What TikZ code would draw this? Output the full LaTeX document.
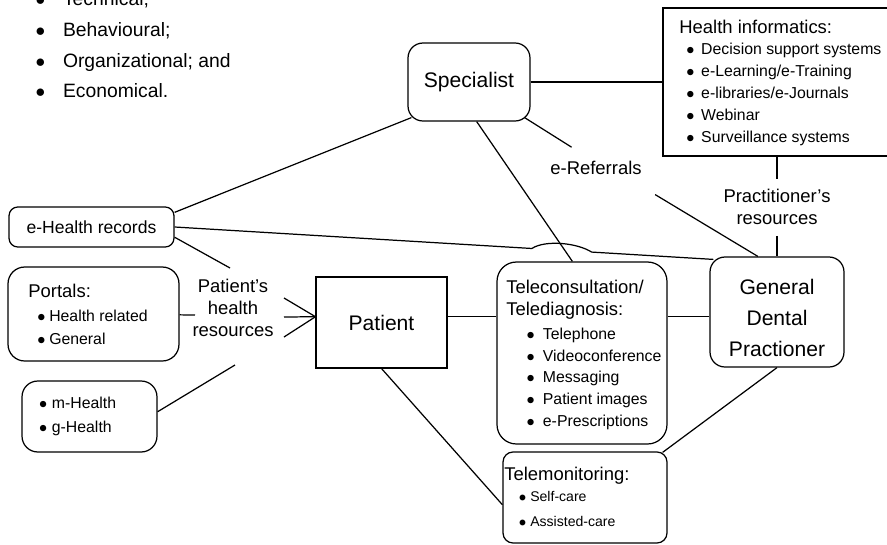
\documentclass[tikz,border=0pt]{standalone}
\usepackage{fontspec}
\setmainfont{Liberation Sans}
\usetikzlibrary{calc,positioning}
\newcommand{\dotitem}[2]{\makebox[0pt]{$\bullet$}\hspace{#1}#2}

\begin{document}
\begin{tikzpicture}[x=0.02cm,y=-0.02cm,
	box/.style={draw,line width=0.7pt,rounded corners=8.5pt,inner sep=0pt},
	link/.style={line width=0.7pt},
	item/.style={anchor=base west,inner sep=0pt},
	lbl/.style={align=center,inner sep=6pt,font=\fontsize{10.5}{12.5}\selectfont}]

	\useasboundingbox (0,0) rectangle (887,545);
	\clip (0,0) rectangle (887,545);

	% Aspetti
	\foreach \t [count=\i from 0] in {Technical;,Behavioural;,Organizational; and,Economical.} {
		\node[item,font=\fontsize{11}{13}\selectfont] (asp\i) at (40,5.8+30.6*\i) {\dotitem{12.9pt}{\t}};
	}

	% Box
	\node[box,minimum width=2.44cm,minimum height=1.56cm,font=\fontsize{12}{14}\selectfont] (spec) at (469,82) {Specialist};
	\node[box,sharp corners,minimum width=4.8cm,minimum height=2.96cm] (info) at (783,82) {};
	\node[box,minimum width=2.68cm,minimum height=2.2cm] (gdp) at (777,312) {};
	\node[align=center,font=\fontsize{12}{17.5}\selectfont] (gdptxt) at (777,318) {General\\Dental\\Practioner};
	\node[box,rounded corners=5pt,minimum width=3.3cm,minimum height=0.8cm,font=\fontsize{10}{12}\selectfont] (ehr) at (91.5,227) {e-Health records};
	\node[box,rounded corners=9.5pt,minimum width=3.42cm,minimum height=1.88cm] (portals) at (93.5,314) {};
	\node[box,rounded corners=9pt,minimum width=2.7cm,minimum height=1.42cm] (mhealth) at (89.5,416.5) {};
	\node[box,sharp corners,line width=0.6pt,minimum width=2.62cm,minimum height=1.82cm,font=\fontsize{12}{14}\selectfont] (patient) at (381.5,322.5) {Patient};
	\node[box,rounded corners=11pt,minimum width=3.4cm,minimum height=3.64cm] (tele) at (582,353) {};
	\node[box,rounded corners=5.7pt,minimum width=3.28cm,minimum height=1.82cm] (mon) at (585,497.5) {};

	% Liste
	\node[item,font=\fontsize{10.5}{12}\selectfont] (infohd) at (679,33) {Health informatics:};
	\foreach \t [count=\i from 0] in {Decision support systems,{e-Learning/e-Training},{e-libraries/e-Journals},Webinar,Surveillance systems} {
		\node[item,font=\fontsize{9}{11}\selectfont] (info\i) at (690,54+22*\i) {\dotitem{6.2pt}{\t}};
	}
	\node[item,font=\fontsize{10.5}{12}\selectfont] (telehd1) at (506,293.3) {Teleconsultation/};
	\node[item,font=\fontsize{10.5}{12}\selectfont] (telehd2) at (506,315) {Telediagnosis:};
	\foreach \t [count=\i from 0] in {Telephone,Videoconference,Messaging,Patient images,e-Prescriptions} {
		\node[item,font=\fontsize{9}{11}\selectfont] (tele\i) at (530.3,339.5+21.7*\i) {\dotitem{7pt}{\t}};
	}
	\node[item,font=\fontsize{10.5}{12}\selectfont] (porthd) at (28,297) {Portals:};
	\foreach \t [count=\i from 0] in {Health related,General} {
		\node[item,font=\fontsize{9}{11}\selectfont] (port\i) at (41.2,321+23*\i) {\dotitem{4.4pt}{\t}};
	}
	\foreach \t [count=\i from 0] in {m-Health,g-Health} {
		\node[item,font=\fontsize{9}{11}\selectfont] (mh\i) at (42.8,408+24.7*\i) {\dotitem{5pt}{\t}};
	}
	\node[item,font=\fontsize{10.5}{12}\selectfont] (monhd) at (504,480) {Telemonitoring:};
	\foreach \t [count=\i from 0] in {Self-care,Assisted-care} {
		\node[item,font=\fontsize{8}{10}\selectfont] (mon\i) at (522.2,501.7+25*\i) {\dotitem{4.4pt}{\t}};
	}

	% Etichette
	\node[lbl,inner xsep=7.5pt,inner ysep=8pt] (eref) at (596,168.4) {e-Referrals};
	\node[lbl] (prres) at (777,207.3) {Practitioner's\\resources};
	\node[lbl] (phr) at (233,308.2) {Patient's\\health\\resources};

	\coordinate (pA) at (230,268);
	\coordinate (pB) at (195,315);
	\coordinate (pC) at (235,365);
	\foreach \y [count=\i] in {298,317,337} {
		\coordinate (a\i) at (284,\y);
	}
	\coordinate (gdpin) at ($(gdp.north west)+(4,3)$);
	\coordinate (hopA) at ($(ehr.east)!0.663!(gdpin)$);
	\coordinate (hopB) at ($(ehr.east)!0.774!(gdpin)$);

	% Collegamenti
	\draw[link] (spec) -- (spec -| info.west);
	\draw[link] (prres) -- (prres |- info.south);
	\draw[link] (prres) -- (gdp);
	\draw[link] ($(spec.south east)+(-6,-4)$) -- (eref.139);
	\draw[link] ($(eref.south east)+(0,5)$) -- (gdp.109);
	\draw[link] (ehr.10) -- ($(spec.south west)+(4,-4)$);
	\draw[link] (ehr.east) -- (hopA) .. controls ($(hopA)+(14,-9)$) and ($(hopB)+(-14,-9)$) .. (hopB) -- (gdpin);
	\draw[link] (ehr.353) -- (pA);
	\draw[link] (portals) -- (pB);
	\draw[link] (mhealth.4) -- (pC);
	\foreach \i in {1,2,3} {
		\draw[link] (a\i) -- (patient.175);
	}
	\draw[link] (patient.5) -- (patient.5 -| tele.west);
	\draw[link] (patient.5 -| tele.east) -- (patient.5 -| gdp.west);
	\draw[link] (spec.281) -- (tele.96);
	\draw[link] (patient.south) -- (mon.185);
	\draw[link] ($(mon.north east)+(-5,1)$) -- (gdp.south);

\end{tikzpicture}
\end{document}
